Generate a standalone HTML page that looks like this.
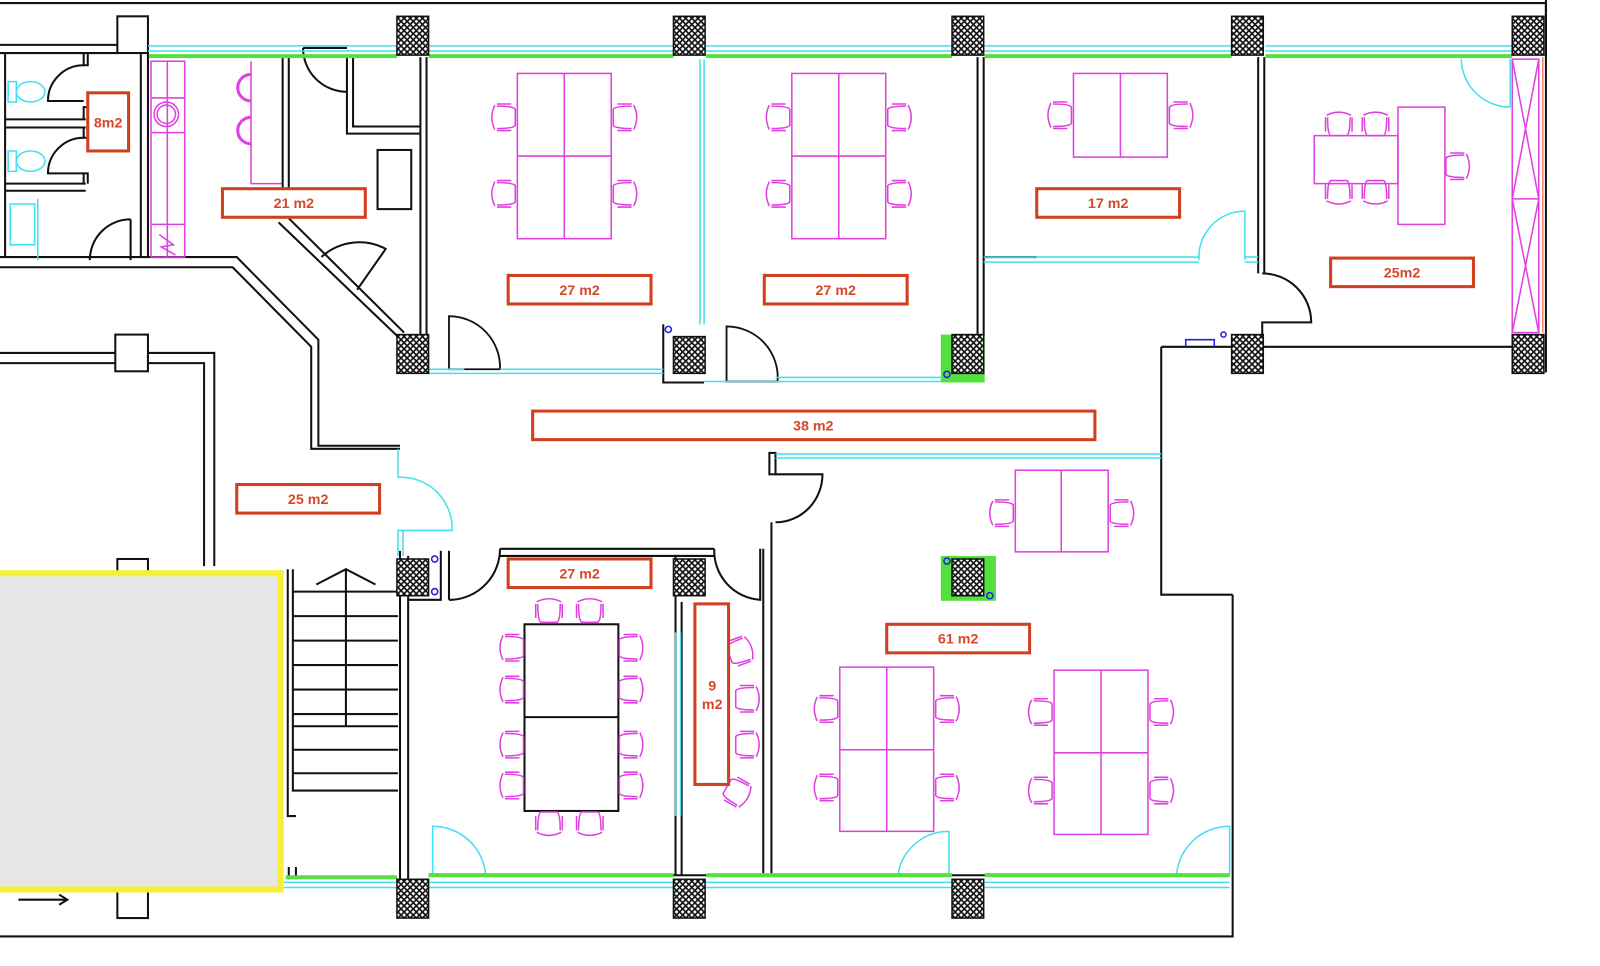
<!DOCTYPE html>
<html><head><meta charset="utf-8"><style>
html,body{margin:0;padding:0;background:#fff;}
svg{display:block;}
text{font-family:"Liberation Sans",sans-serif;font-weight:bold;fill:#d9472b;font-size:14px;text-anchor:middle;}
</style></head><body>
<svg width="1600" height="966" viewBox="0 0 1568 947" preserveAspectRatio="none" xmlns="http://www.w3.org/2000/svg">
<defs>
<pattern id="h" width="6" height="6" patternUnits="userSpaceOnUse">
<rect width="6" height="6" fill="#fff"/>
<path d="M0 0L6 6M6 0L0 6" stroke="#111" stroke-width="1.6"/>
</pattern>
<g id="ch" fill="none" stroke="#e040e0" stroke-width="1.5">
<path d="M-11 -6 Q-11 10 -8 12 L8 12 Q11 10 11 -6"/>
<path d="M-12 -8 Q0 -14 12 -8"/>
<path d="M-13 -6 L-13 8 M13 -6 L13 8"/>
</g>
</defs>
<rect width="1568" height="947" fill="#fff"/>
<g fill="none" stroke="#111" stroke-width="2">
<path d="M0 3H1515V55"/>
<path d="M1515 0V365"/>
<path d="M0 918H1208V583"/>
<path d="M0 44H115M0 52H115"/>
<rect x="115" y="16" width="30" height="36" fill="#fff"/>
<path d="M5 52V252M138 52V252M145 52V252"/>
<path d="M5 117H84M5 125H84M5 180H84M5 187H84"/>
<path d="M82 52v12h4v-12M82 117v-12h4v12M82 125v10h4v-10M82 180v-10h4v10"/>
<path d="M82 64A35 35 0 0 0 47 99H82M82 135A35 35 0 0 0 47 170H82"/>
<path d="M128 215A40 40 0 0 0 88 255M128 215V255"/>
<path d="M0 252H232L312 333V437H392M0 262H228L305 340V440H392"/>
<path d="M277 56V190M283 56V190"/>
<path d="M273 218L392 332M283 214L396 326"/>
<path d="M315 252A55 55 0 0 1 378 244L350 284"/>
<path d="M340 56v75h72M346 56v68h66"/>
<path d="M340 90A43 43 0 0 1 297 47M297 47H340"/>
<rect x="370" y="147" width="33" height="58"/>
<path d="M412 56V330M418 56V330"/>
<path d="M958 56V330M964 56V330"/>
<path d="M1233 56V268M1239 56V268"/>
<path d="M1237 268A48 48 0 0 1 1285 316H1237V328"/>
<path d="M964 252H1016"/>
<path d="M0 346H113M145 346H210V555M0 356H113M145 356H200V555"/>
<rect x="113" y="328" width="32" height="36" fill="#fff"/>
<rect x="115" y="548" width="30" height="14" fill="#fff"/>
<rect x="115" y="872" width="30" height="28" fill="#fff"/>
<path d="M440 310A50 50 0 0 1 490 362H440Z" stroke-width="1.8"/>
<path d="M712 320A50 50 0 0 1 762 374H712Z" stroke-width="1.8"/>
<path d="M650 318V375H690"/>
<path d="M392 540V862M400 545V862"/>
<path d="M432 540V588H400M440 540V588"/>
<path d="M490 538H700M490 545H700"/>
<path d="M490 538A50 50 0 0 1 443 588H440"/>
<path d="M700 538A48 48 0 0 0 745 588V538M748 538V858M756 512V858"/>
<path d="M662 545V858M668 590V858"/>
<rect x="754" y="444" width="6" height="21"/>
<path d="M760 465H806A46 47 0 0 1 760 512"/>
<path d="M1138 340V583H1208"/>
<path d="M1138 340H1207M1238 340H1482"/>
<path d="M420 858H1205"/>
<path d="M287 558V775H390M282 558V800H290M287 580H390M287 604H390M287 628H390M287 652H390M287 676H390M287 700H390M287 712H390M287 735H390M287 758H390M339 558V712"/>
<path d="M310 573L339 558L368 573"/>
<path d="M283 850V862M290 850V862"/>
<path d="M18 882H66M58 877L66 882L58 887"/>
<rect x="514" y="612" width="92" height="183"/>
<path d="M514 703H606"/>
</g>
<g fill="none" stroke="#40e0f0" stroke-width="1.5">
<path d="M145 45H389M145 50H389M420 45H660M420 50H660M692 45H933M692 50H933M965 45H1207M965 50H1207M1240 45H1482M1240 50H1482"/>
<path d="M278 865H389M278 870H389M420 865H660M420 870H660M692 865H933M692 870H933M965 865H1205M965 870H1205"/>
<path d="M686 58V318M690 58V318"/>
<path d="M420 362H455M490 362H650M420 366H650M690 374H930M760 370H930"/>
<path d="M964 252H1175M964 257H1175M1220 252H1233M1220 257H1233"/>
<path d="M1175 255A45 45 0 0 1 1220 207V255"/>
<path d="M1480 105A48 48 0 0 1 1432 58M1480 58V105"/>
<path d="M760 445H1138M760 449H1138"/>
<path d="M390 440V468M390 468A50 50 0 0 1 443 520H390V545M395 520V545"/>
<path d="M662 620V800M667 620V800"/>
<path d="M424 858V810A52 52 0 0 1 476 858"/>
<path d="M930 858V815A50 50 0 0 0 880 858"/>
<path d="M1205 858V810A52 52 0 0 0 1153 858"/>
<path d="M34 200H10V240H34ZM37 195V255"/>
<ellipse cx="30" cy="90" rx="14" ry="10"/><ellipse cx="30" cy="158" rx="14" ry="10"/>
<path d="M8 80H16V100H8ZM8 148H16V168H8Z"/>
</g>
<g stroke="#55e040" stroke-width="4">
<path d="M146 55H389M420 55H660M692 55H933M965 55H1207M1240 55H1482"/>
<path d="M280 860H389M420 858H660M692 858H933M965 858H1205"/>
</g>
<rect x="922" y="328" width="43" height="47" fill="#55e040"/>
<rect x="922" y="545" width="54" height="44" fill="#55e040"/>
<g fill="url(#h)" stroke="#111" stroke-width="1.5">
<rect x="389" y="16" width="31" height="38"/><rect x="660" y="16" width="31" height="38"/>
<rect x="933" y="16" width="31" height="38"/><rect x="1207" y="16" width="31" height="38"/>
<rect x="1482" y="16" width="31" height="38"/>
<rect x="389" y="328" width="31" height="38"/><rect x="660" y="330" width="31" height="36"/>
<rect x="933" y="328" width="31" height="38"/><rect x="1207" y="328" width="31" height="38"/>
<rect x="1482" y="328" width="31" height="38"/>
<rect x="389" y="548" width="31" height="36"/><rect x="660" y="548" width="31" height="36"/>
<rect x="933" y="548" width="31" height="36"/>
<rect x="389" y="862" width="31" height="38"/><rect x="660" y="862" width="31" height="38"/>
<rect x="933" y="862" width="31" height="38"/>
</g>
<g fill="none" stroke="#e040e0" stroke-width="1.5">
<rect x="507" y="72" width="92" height="162"/><path d="M553 72V234M507 153H599"/>
<rect x="776" y="72" width="92" height="162"/><path d="M822 72V234M776 153H868"/>
<rect x="1052" y="72" width="92" height="82"/><path d="M1098 72V154"/>
<rect x="1288" y="133" width="82" height="47"/><rect x="1370" y="105" width="46" height="115"/>
<rect x="995" y="461" width="91" height="80"/><path d="M1040 461V541"/>
<rect x="823" y="654" width="92" height="161"/><path d="M869 654V815M823 735H915"/>
<rect x="1033" y="657" width="92" height="161"/><path d="M1079 657V818M1033 738H1125"/>
<rect x="148" y="60" width="33" height="192"/><path d="M164 60V252M148 96H181M148 130H181M148 220H181"/>
<circle cx="163" cy="112" r="12"/><circle cx="163" cy="112" r="9"/>
<path d="M156 230L170 240L158 242L172 250"/>
<path d="M246 60V180H276"/>
<path d="M246 73A13 13 0 1 0 246 99M246 115A13 13 0 1 0 246 141" stroke-width="3"/>
<rect x="1482" y="58" width="26" height="268"/>
<path d="M1482 58L1508 195L1482 326M1508 58L1482 195L1508 326M1482 195H1508"/>
</g>
<path d="M1512 56V326" stroke="#f06040" stroke-width="1.2"/>
<g fill="none" stroke="#2020e0" stroke-width="1.5">
<circle cx="655" cy="323" r="3"/><circle cx="928" cy="367" r="3"/><circle cx="1199" cy="328" r="2.5"/>
<path d="M1162 340V333H1190V340"/>
<circle cx="426" cy="548" r="3"/><circle cx="426" cy="580" r="3"/>
<circle cx="928" cy="550" r="3"/><circle cx="970" cy="584" r="3"/>
</g>
<g>
<use href="#ch" transform="translate(493,115) rotate(-90)"/><use href="#ch" transform="translate(493,190) rotate(-90)"/>
<use href="#ch" transform="translate(613,115) rotate(90)"/><use href="#ch" transform="translate(613,190) rotate(90)"/>
<use href="#ch" transform="translate(762,115) rotate(-90)"/><use href="#ch" transform="translate(762,190) rotate(-90)"/>
<use href="#ch" transform="translate(882,115) rotate(90)"/><use href="#ch" transform="translate(882,190) rotate(90)"/>
<use href="#ch" transform="translate(1038,113) rotate(-90)"/><use href="#ch" transform="translate(1158,113) rotate(90)"/>
<use href="#ch" transform="translate(1312,121)"/><use href="#ch" transform="translate(1348,121)"/>
<use href="#ch" transform="translate(1312,189) rotate(180)"/><use href="#ch" transform="translate(1348,189) rotate(180)"/>
<use href="#ch" transform="translate(1429,163) rotate(90)"/>
<use href="#ch" transform="translate(981,503) rotate(-90)"/><use href="#ch" transform="translate(1100,503) rotate(90)"/>
<use href="#ch" transform="translate(809,695) rotate(-90)"/><use href="#ch" transform="translate(809,772) rotate(-90)"/>
<use href="#ch" transform="translate(929,695) rotate(90)"/><use href="#ch" transform="translate(929,772) rotate(90)"/>
<use href="#ch" transform="translate(1019,698) rotate(-90)"/><use href="#ch" transform="translate(1019,775) rotate(-90)"/>
<use href="#ch" transform="translate(1139,698) rotate(90)"/><use href="#ch" transform="translate(1139,775) rotate(90)"/>
<use href="#ch" transform="translate(538,598)"/><use href="#ch" transform="translate(578,598)"/>
<use href="#ch" transform="translate(538,808) rotate(180)"/><use href="#ch" transform="translate(578,808) rotate(180)"/>
<use href="#ch" transform="translate(501,635) rotate(-90)"/><use href="#ch" transform="translate(501,676) rotate(-90)"/>
<use href="#ch" transform="translate(501,730) rotate(-90)"/><use href="#ch" transform="translate(501,770) rotate(-90)"/>
<use href="#ch" transform="translate(619,635) rotate(90)"/><use href="#ch" transform="translate(619,676) rotate(90)"/>
<use href="#ch" transform="translate(619,730) rotate(90)"/><use href="#ch" transform="translate(619,770) rotate(90)"/>
<use href="#ch" transform="translate(726,638) rotate(70)"/><use href="#ch" transform="translate(733,685) rotate(90)"/>
<use href="#ch" transform="translate(733,730) rotate(90)"/><use href="#ch" transform="translate(723,777) rotate(120)"/>
</g>
<rect x="-3" y="562" width="278" height="310" fill="#e6e6e6" stroke="#f5ef3a" stroke-width="6"/>
<g fill="#fff" stroke="#d0401f" stroke-width="3">
<rect x="86" y="91" width="40" height="57"/>
<rect x="218" y="185" width="140" height="28"/>
<rect x="498" y="270" width="140" height="28"/>
<rect x="749" y="270" width="140" height="28"/>
<rect x="1016" y="185" width="140" height="28"/>
<rect x="1304" y="253" width="140" height="28"/>
<rect x="522" y="403" width="551" height="28"/>
<rect x="232" y="475" width="140" height="28"/>
<rect x="498" y="548" width="140" height="28"/>
<rect x="681" y="592" width="33" height="177"/>
<rect x="869" y="612" width="140" height="28"/>
</g>
<text x="106" y="125">8m2</text>
<text x="288" y="204">21 m2</text>
<text x="568" y="289">27 m2</text>
<text x="819" y="289">27 m2</text>
<text x="1086" y="204">17 m2</text>
<text x="1374" y="272">25m2</text>
<text x="797" y="422">38 m2</text>
<text x="302" y="494">25 m2</text>
<text x="568" y="567">27 m2</text>
<text x="698" y="677">9</text>
<text x="698" y="695">m2</text>
<text x="939" y="631">61 m2</text>
</svg>
</body></html>
